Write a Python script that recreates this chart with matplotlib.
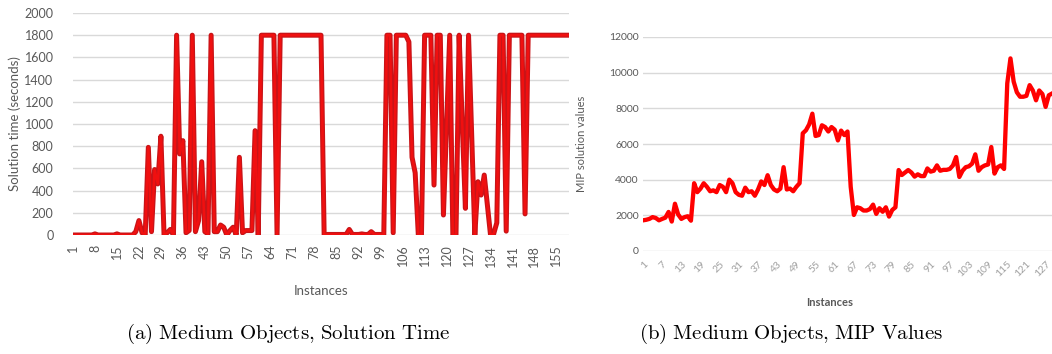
import matplotlib

matplotlib.use("Agg")
import matplotlib.pyplot as plt

plt.rcParams["font.family"] = ["Lato", "DejaVu Sans"]
plt.rcParams["mathtext.fontset"] = "cm"

# (a) solution time per instance, seconds (1800 = time limit)
solution_time = [
    0, 0, 0, 0, 0, 0, 0, 10, 0, 0,
    0, 0, 0, 0, 10, 0, 0, 0, 0, 0,
    30, 130, 20, 0, 790, 30, 590, 460, 890, 0,
    20, 50, 0, 1800, 730, 850, 20, 40, 1800, 30,
    130, 660, 30, 10, 1800, 30, 30, 90, 70, 0,
    40, 70, 0, 700, 20, 40, 40, 40, 940, 0,
    1800, 1800, 1800, 1800, 1800, 0, 1800, 1800, 1800, 1800,
    1800, 1800, 1800, 1800, 1800, 1800, 1800, 1800, 1800, 1800,
    0, 5, 5, 5, 5, 5, 5, 5, 50, 5,
    5, 5, 10, 5, 5, 30, 5, 5, 5, 0,
    1800, 1800, 20, 1800, 1800, 1800, 1800, 1740, 700, 560,
    0, 0, 1800, 1800, 1800, 450, 1800, 1800, 180, 990,
    1800, 0, 0, 1800, 1000, 240, 1800, 900, 0, 480,
    360, 540, 270, 0, 10, 110, 1800, 1800, 35, 1800,
    1800, 1800, 1800, 1800, 190, 1800, 1800, 1800, 1800, 1800,
    1800, 1800, 1800, 1800, 1800, 1800, 1800, 1800, 1800,
]

# (b) MIP solution value per instance
mip_values = [
    1720, 1750, 1800, 1900, 1850, 1720, 1800, 1870, 2190, 1650,
    2650, 2050, 1800, 1900, 1950, 1700, 3800, 3300, 3500, 3800,
    3600, 3350, 3400, 3300, 3700, 3600, 3300, 4000, 3800, 3300,
    3150, 3100, 3550, 3300, 3350, 3100, 3450, 3900, 3700, 4250,
    3700, 3450, 3350, 3500, 4700, 3450, 3500, 3350, 3600, 3800,
    6600, 6770, 7100, 7700, 6450, 6500, 7050, 6950, 6700, 6950,
    6800, 6200, 6750, 6500, 6700, 3600, 2020, 2450, 2400, 2270,
    2270, 2350, 2600, 2080, 2400, 2200, 2450, 1930, 2300, 2450,
    4540, 4260, 4400, 4540, 4400, 4170, 4300, 4200, 4200, 4630,
    4450, 4500, 4800, 4500, 4550, 4550, 4600, 4800, 5270, 4150,
    4500, 4700, 4750, 4900, 5420, 4500, 4700, 4800, 4850, 5830,
    4340, 4700, 4800, 4600, 9400, 10800, 9500, 8900, 8650, 8650,
    8700, 9300, 9000, 8450, 9000, 8800, 8080, 8730, 8830,
]

time_ticks = list(range(1, len(solution_time) + 1, 7))
mip_ticks = list(range(1, len(mip_values) + 1, 6))

grid_color = "#d9d9d9"
text_color = "#595959"

fig = plt.figure(figsize=(10.52, 3.54), dpi=100)

# ---- (a) solution time ----
ax1 = fig.add_axes([73 / 1052, 1 - 235 / 354, 496 / 1052, 222 / 354])
x1 = range(1, len(solution_time) + 1)
ax1.plot(x1, solution_time, color="#c81418", linewidth=3.6, solid_joinstyle="round", zorder=3)
ax1.plot(x1, solution_time, color="#f01010", linewidth=1.8, solid_joinstyle="round", zorder=4)
ax1.set_xlim(1, len(solution_time))
ax1.set_ylim(0, 2000)
ax1.set_yticks(range(0, 2001, 200))
ax1.set_xticks(time_ticks)
ax1.set_xticklabels([str(t) for t in time_ticks], rotation=90)
ax1.grid(axis="y", color=grid_color, linewidth=1)
ax1.tick_params(axis="y", length=0, pad=14, labelsize=9, labelcolor=text_color)
ax1.tick_params(axis="x", length=0, pad=7, labelsize=9, labelcolor=text_color)
ax1.set_ylabel("Solution time (seconds)", fontsize=9.5, color=text_color)
ax1.yaxis.set_label_coords(-0.104, 0.5)
ax1.set_xlabel("Instances", fontsize=9.5, color=text_color)
ax1.xaxis.set_label_coords(0.5, -0.225)
ax1.set_axisbelow(True)
for side in ax1.spines.values():
    side.set_visible(False)

# ---- (b) MIP values ----
ax2 = fig.add_axes([643 / 1052, 1 - 251 / 354, 409 / 1052, 214 / 354])
x2 = range(1, len(mip_values) + 1)
ax2.plot(x2, mip_values, color="#ff0000", linewidth=3.1, solid_joinstyle="round", zorder=3)
ax2.set_xlim(1, len(mip_values))
ax2.set_ylim(0, 12000)
ax2.set_yticks(range(0, 12001, 2000))
ax2.set_xticks(mip_ticks)
ax2.set_xticklabels([str(t) for t in mip_ticks], rotation=45, ha="right",
                    rotation_mode="anchor")
ax2.grid(axis="y", color=grid_color, linewidth=1)
ax2.tick_params(axis="y", length=0, pad=3, labelsize=7.5, labelcolor=text_color)
ax2.tick_params(axis="x", length=0, pad=6, labelsize=7.5, labelcolor="#a0a0a0")
ax2.set_ylabel("MIP solution values", fontsize=8, color=text_color)
ax2.yaxis.set_label_coords(-0.137, 0.5)
ax2.set_xlabel("Instances", fontsize=8, color=text_color, fontweight="bold")
ax2.xaxis.set_label_coords(0.457, -0.215)
ax2.set_axisbelow(True)
for side in ax2.spines.values():
    side.set_visible(False)

# captions
fig.text(288 / 1052, 1 - 334 / 354,
         r"$\mathrm{(a)\ Medium\ Objects{,}\ Solution\ Time}$",
         ha="center", va="center", fontsize=15)
fig.text(791 / 1052, 1 - 334 / 354,
         r"$\mathrm{(b)\ Medium\ Objects{,}\ MIP\ Values}$",
         ha="center", va="center", fontsize=15)

fig.savefig("out.png", dpi=100)
